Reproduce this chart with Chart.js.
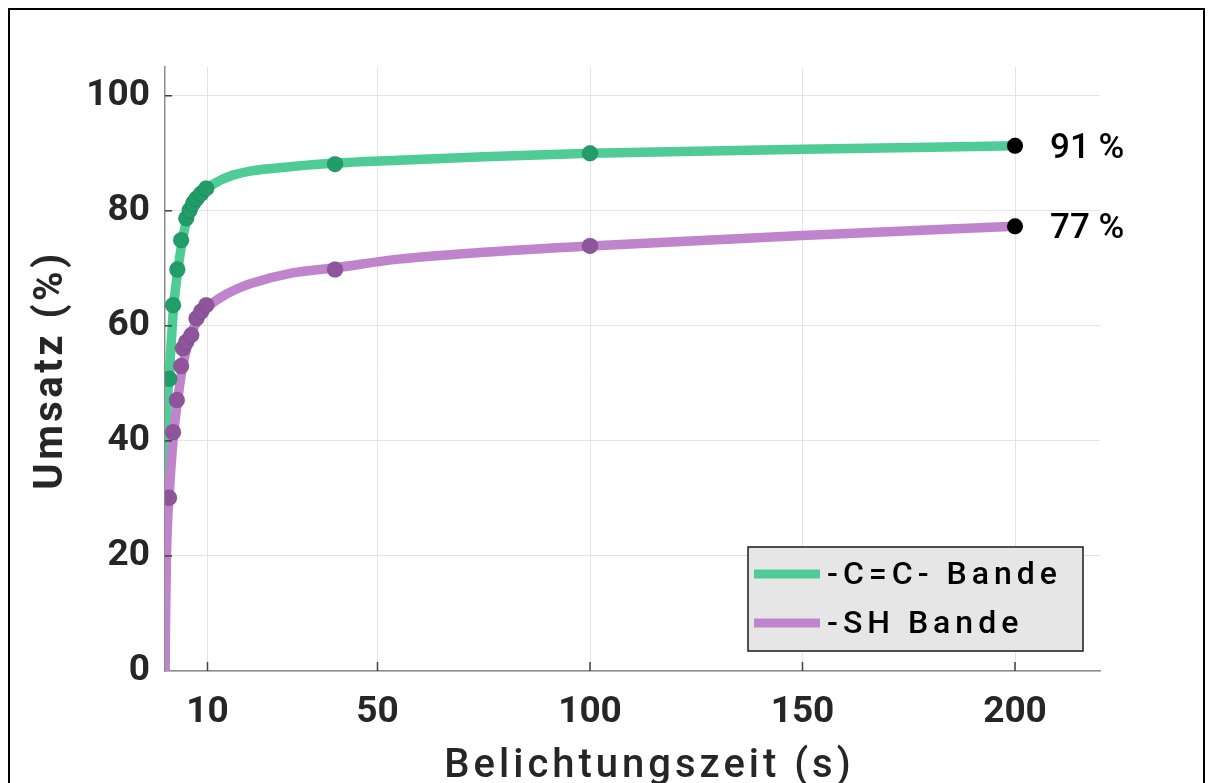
<!DOCTYPE html>
<html lang="de">
<head>
  <meta charset="UTF-8">
  <title>Umsatz vs. Belichtungszeit</title>
  <style>
    body { margin: 0; background: #fff; overflow: hidden; }
    #rahmen {
      position: absolute; left: 8px; top: 8px; width: 1193px; height: 820px;
      border: 2px solid #000; pointer-events: none;
    }
    canvas { display: block; }
  </style>
</head>
<body>
  <canvas id="grafik" width="1211" height="783"></canvas>
  <div id="rahmen"></div>

  <script src="https://cdn.jsdelivr.net/npm/chart.js"></script>
  <script>
    // Messpunkte (Belichtungszeit in s, Umsatz in %)
    const zeitCC = [1, 1.9, 2.9, 3.8, 5, 5.8, 6.6, 7.4, 8.5, 9.7, 40, 100];
    const umsatzCC = [50.8, 63.6, 69.8, 74.9, 78.7, 80.1, 81.3, 82.1, 83.0, 83.9, 88.1, 90.0];
    const zeitSH = [0.95, 1.9, 2.8, 3.8, 4.2, 5.0, 6.2, 7.4, 8.5, 9.7, 40, 100];
    const umsatzSH = [30.1, 41.5, 47.1, 53.0, 56.1, 57.2, 58.4, 61.3, 62.5, 63.6, 69.8, 73.9];

    // Fit-Kurven
    const fitZeitCC = [0, 0.03, 0.1, 0.25, 0.5, 1, 2, 3, 4, 5, 6, 7, 8, 10, 13, 16, 20, 30, 40, 55, 75, 100, 150, 200];
    const fitCC = [0, 15, 30, 40, 46, 51.5, 63, 69.5, 74.5, 78, 80, 81.5, 82.5, 84, 85.3, 86.2, 86.9, 87.7, 88.3, 88.8, 89.4, 90.0, 90.7, 91.3];
    const fitZeitSH = [0, 0.15, 0.35, 0.6, 1, 2, 3, 4, 5, 6, 7, 8, 10, 13, 16, 20, 30, 40, 55, 75, 100, 150, 200];
    const fitSH = [0, 10, 20, 26, 31, 41, 47.2, 52.3, 55.8, 58.2, 60, 61.2, 63.2, 64.9, 66.1, 67.3, 69.2, 70.1, 71.6, 72.8, 73.9, 75.7, 77.3];

    const endZeit = [200, 200];
    const endUmsatz = [91.3, 77.3];
    const endText = ['91 %', '77 %'];

    const xTicks = [10, 50, 100, 150, 200];
    const yTicks = [0, 20, 40, 60, 80, 100];
    const namen = ['-C=C- Bande', '-SH Bande'];

    const gruenLinie = '#4fcb96', gruenPunkt = '#219d69';
    const lilaLinie = '#c084cc', lilaPunkt = '#8e559d';

    const punkte = (xs, ys) => xs.map((x, i) => ({ x: x, y: ys[i] }));

    const extras = {
      id: 'extras',
      afterDraw(chart) {
        const ctx = chart.ctx;
        const a = chart.chartArea;
        const sx = chart.scales.x, sy = chart.scales.y;
        ctx.save();

        // kurze Ticks nach innen
        ctx.strokeStyle = '#404040';
        ctx.lineWidth = 1.5;
        xTicks.forEach(v => {
          const px = sx.getPixelForValue(v);
          ctx.beginPath(); ctx.moveTo(px, a.bottom); ctx.lineTo(px, a.bottom - 9); ctx.stroke();
        });
        yTicks.forEach(v => {
          if (v === 0) return;
          const py = sy.getPixelForValue(v);
          ctx.beginPath(); ctx.moveTo(a.left, py); ctx.lineTo(a.left + 7, py); ctx.stroke();
        });

        // Endwerte
        ctx.fillStyle = '#000';
        ctx.font = '500 35px Roboto';
        ctx.textAlign = 'left';
        ctx.textBaseline = 'middle';
        endText.forEach((t, i) => {
          ctx.fillText(t, sx.getPixelForValue(endZeit[i]) + 35, sy.getPixelForValue(endUmsatz[i]) + 3);
        });

        // Legende
        const bx = a.right - 17 - 335, by = a.bottom - 20 - 104;
        ctx.fillStyle = '#e6e6e6';
        ctx.fillRect(bx, by, 335, 104);
        ctx.strokeStyle = '#1a1a1a';
        ctx.lineWidth = 1.5;
        ctx.strokeRect(bx, by, 335, 104);
        [gruenLinie, lilaLinie].forEach((c, i) => {
          const ly = by + 27 + i * 49;
          ctx.strokeStyle = c;
          ctx.lineWidth = 9;
          ctx.beginPath(); ctx.moveTo(bx + 6, ly); ctx.lineTo(bx + 72, ly); ctx.stroke();
          ctx.fillStyle = '#000';
          ctx.font = '500 32px Roboto';
          ctx.letterSpacing = '5px';
          ctx.textBaseline = 'middle';
          ctx.fillText(namen[i], bx + 79, ly + 2);
        });

        // Achsentitel
        ctx.fillStyle = '#262626';
        ctx.textAlign = 'center';
        ctx.textBaseline = 'alphabetic';
        ctx.font = '500 40px Roboto';
        ctx.letterSpacing = '4px';
        ctx.fillText('Belichtungszeit (s)', (a.left + a.right) / 2 + 17, 777);

        ctx.translate(52, 370);
        ctx.rotate(-Math.PI / 2);
        ctx.font = '700 40px Roboto';
        ctx.letterSpacing = '3.5px';
        ctx.textBaseline = 'middle';
        ctx.fillText('Umsatz (%)', 0, 0);
        ctx.restore();
      }
    };

    new Chart(document.getElementById('grafik'), {
      type: 'scatter',
      data: {
        datasets: [
          { data: punkte(endZeit, endUmsatz), backgroundColor: '#000', pointRadius: 8, order: 0 },
          { data: punkte(zeitSH, umsatzSH), backgroundColor: lilaPunkt, pointRadius: 8, order: 1 },
          { data: punkte(zeitCC, umsatzCC), backgroundColor: gruenPunkt, pointRadius: 8, order: 2 },
          { data: punkte(fitZeitSH, fitSH), showLine: true, borderColor: lilaLinie, borderWidth: 9.5,
            pointRadius: 0, cubicInterpolationMode: 'monotone', order: 3 },
          { data: punkte(fitZeitCC, fitCC), showLine: true, borderColor: gruenLinie, borderWidth: 9.5,
            pointRadius: 0, cubicInterpolationMode: 'monotone', order: 4 }
        ]
      },
      options: {
        responsive: false,
        animation: false,
        layout: { padding: { top: 67, right: 111, left: 0, bottom: 0 } },
        plugins: { legend: { display: false }, tooltip: { enabled: false } },
        scales: {
          x: {
            type: 'linear', min: 0, max: 220,
            afterBuildTicks: s => { s.ticks = xTicks.map(v => ({ value: v })); },
            afterFit: s => { s.height = 112; },
            grid: { color: '#e4e4e4', lineWidth: 1, drawTicks: false },
            border: { color: '#8c8c8c', width: 1.5 },
            ticks: { padding: 20, color: '#262626', font: { family: 'Roboto', weight: '700', size: 37 } }
          },
          y: {
            type: 'linear', min: 0, max: 105,
            afterBuildTicks: s => { s.ticks = yTicks.map(v => ({ value: v })); },
            afterFit: s => { s.width = 165; },
            grid: { color: '#e4e4e4', lineWidth: 1, drawTicks: false },
            border: { color: '#8c8c8c', width: 1.5 },
            ticks: { padding: 15, color: '#262626', font: { family: 'Roboto', weight: '700', size: 37 } }
          }
        }
      },
      plugins: [extras]
    });
  </script>
</body>
</html>
